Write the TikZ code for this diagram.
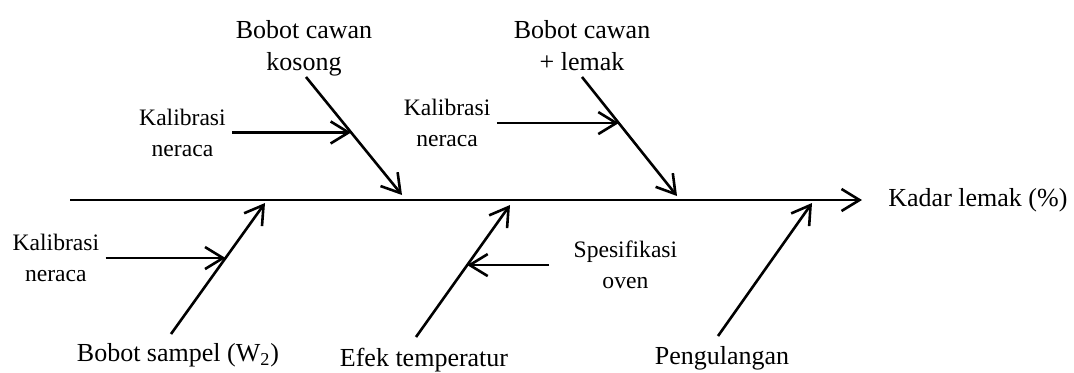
\documentclass[tikz,border=0pt]{standalone}
\usepackage{fontspec}
\setmainfont{Liberation Serif}
\usepackage{tikz}
\usetikzlibrary{arrows.meta, calc, positioning}
\tikzstyle{cause} = [align=center, inner sep=0pt, font=\fontsize{13}{16}\selectfont]
\tikzstyle{subcause} = [align=center, inner ysep=0pt, inner xsep=3pt, font=\fontsize{11.8}{15.5}\selectfont]
\tikzstyle{arrow} = [line width=1.3pt, -{Straight Barb[length=9pt, width=11pt]}]

\begin{document}
\begin{tikzpicture}[x=0.5pt, y=-0.5pt]
	\useasboundingbox (0,0) rectangle (1074,372);
	\coordinate (SpineTail) at (70,200);
	\coordinate (SpineHead) at (862,200);
	\node (Kadar) [cause, right = 13pt of SpineHead] {Kadar lemak (\%)};
	% upper bones
	\coordinate (KosongTail) at (306,77);
	\coordinate (KosongHead) at (402,195);
	\coordinate (KosongCal) at ($(KosongTail)!0.47!(KosongHead)$);
	\node (Kosong) [cause] at (304,48) {Bobot cawan\\kosong};
	\node (KalKosong) [subcause, left = 59.5pt of KosongCal] {Kalibrasi\\neraca};
	\coordinate (LemakTail) at (582,77);
	\coordinate (LemakHead) at (677,196);
	\coordinate (LemakCal) at ($(LemakTail)!0.387!(LemakHead)$);
	\node (Lemak) [cause] at (582,46) {Bobot cawan\\+ lemak};
	\node (KalLemak) [subcause, left = 61pt of LemakCal] {Kalibrasi\\neraca};
	% lower bones
	\coordinate (SampelTail) at (171,334);
	\coordinate (SampelHead) at (265,203);
	\coordinate (SampelCal) at ($(SampelTail)!0.58!(SampelHead)$);
	\node (Sampel) [cause] at (178,355) {Bobot sampel (W\textsubscript{2})};
	\node (KalSampel) [subcause, left = 60pt of SampelCal] {Kalibrasi\\neraca};
	\coordinate (SuhuTail) at (416,337);
	\coordinate (SuhuHead) at (510,205);
	\coordinate (SuhuOven) at ($(SuhuTail)!0.545!(SuhuHead)$);
	\node (Suhu) [cause] at (424,360) {Efek temperatur};
	\node (Oven) [subcause, inner xsep=12pt, right = 41pt of SuhuOven] {Spesifikasi\\oven};
	\coordinate (UlangTail) at (718,336);
	\coordinate (UlangHead) at (812,203);
	\node (Ulang) [cause] at (722,358) {Pengulangan};
	\draw [arrow] (SpineTail) -- (SpineHead);
	\draw [arrow] (KosongTail) -- (KosongHead);
	\draw [arrow] (KalKosong) -- (KosongCal);
	\draw [arrow] (LemakTail) -- (LemakHead);
	\draw [arrow] (KalLemak) -- (LemakCal);
	\draw [arrow] (SampelTail) -- (SampelHead);
	\draw [arrow] (KalSampel) -- (SampelCal);
	\draw [arrow] (SuhuTail) -- (SuhuHead);
	\draw [arrow] (Oven) -- (SuhuOven);
	\draw [arrow] (UlangTail) -- (UlangHead);
\end{tikzpicture}
\end{document}
